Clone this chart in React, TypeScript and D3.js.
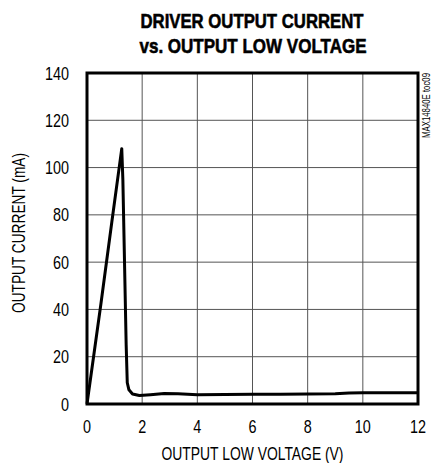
import React from "react";
import * as d3 from "d3";

const xTicks = [0, 2, 4, 6, 8, 10, 12];
const yTicks = [0, 20, 40, 60, 80, 100, 120, 140];
const voltage = [0, 0.5, 0.9, 1.26, 1.3, 1.36, 1.42, 1.46, 1.52, 1.65, 1.9, 2.3, 2.8, 3.3, 4.0, 5.0, 6.0, 7.0, 8.0, 9.0, 9.5, 10.0, 11.0, 12.0];
const current = [0, 42, 77, 108, 95, 60, 25, 9, 6, 4.2, 3.6, 3.9, 4.4, 4.3, 3.9, 4.0, 4.1, 4.1, 4.2, 4.3, 4.7, 4.8, 4.8, 4.8];

const W = 439, H = 463;
const M = { left: 87, right: 418, top: 73, bottom: 404 };
const FONT = "'Liberation Sans', Arial, sans-serif";
const SX = 0.8;

function NText({ x, y, anchor = "start", size = 18, weight = "normal", rotate = 0, children }: any) {
  return (
    <text
      transform={`translate(${x},${y}) rotate(${rotate}) scale(${SX},1)`}
      textAnchor={anchor}
      fontSize={size}
      fontWeight={weight}
      fill="#000"
    >
      {children}
    </text>
  );
}

export default function App() {
  const x = d3.scaleLinear().domain([0, 12]).range([M.left, M.right]);
  const y = d3.scaleLinear().domain([0, 140]).range([M.bottom, M.top]);
  const pts: [number, number][] = voltage.map((v, i) => [v, current[i]]);
  const line = d3.line<[number, number]>().x(d => x(d[0])).y(d => y(d[1])).curve(d3.curveLinear);
  return (
    <svg width={W} height={H} style={{ position: "absolute", left: 0, top: 0, background: "#fff" }} fontFamily={FONT}>
      <rect x={0} y={0} width={W} height={H} fill="#fff" />
      <text x={252} y={28} textAnchor="middle" fontSize={21} fontWeight="bold" fill="#000" stroke="#000" strokeWidth={0.6} textLength={223} lengthAdjust="spacingAndGlyphs">DRIVER OUTPUT CURRENT</text>
      <text x={253} y={53} textAnchor="middle" fontSize={21} fontWeight="bold" fill="#000" stroke="#000" strokeWidth={0.6} textLength={227} lengthAdjust="spacingAndGlyphs">vs. OUTPUT LOW VOLTAGE</text>
      {xTicks.slice(1, -1).map(t => (
        <line key={"gx" + t} x1={x(t)} x2={x(t)} y1={M.top} y2={M.bottom} stroke="#555" strokeWidth={1} />
      ))}
      {yTicks.slice(1, -1).map(t => (
        <line key={"gy" + t} x1={M.left} x2={M.right} y1={y(t)} y2={y(t)} stroke="#555" strokeWidth={1} />
      ))}
      <rect x={M.left} y={M.top} width={M.right - M.left} height={M.bottom - M.top} fill="none" stroke="#000" strokeWidth={3} />
      <path d={line(pts) || ""} fill="none" stroke="#000" strokeWidth={3} strokeLinejoin="round" />
      {yTicks.map(t => (
        <NText key={"ty" + t} x={69} y={y(t) + 6.5} anchor="end">{t}</NText>
      ))}
      {xTicks.map(t => (
        <NText key={"tx" + t} x={x(t)} y={433} anchor="middle">{t}</NText>
      ))}
      <text x={252.5} y={460} textAnchor="middle" fontSize={18} fill="#000" textLength={182} lengthAdjust="spacingAndGlyphs">OUTPUT LOW VOLTAGE (V)</text>
      <text transform={`translate(25,233) rotate(-90)`} x={0} y={0} textAnchor="middle" fontSize={18} fill="#000" textLength={160} lengthAdjust="spacingAndGlyphs">OUTPUT CURRENT (mA)</text>
      <text transform={`translate(430,73) rotate(-90)`} x={0} y={0} textAnchor="end" fontSize={11} fill="#000" textLength={65} lengthAdjust="spacingAndGlyphs">MAX14840E toc09</text>
    </svg>
  );
}
